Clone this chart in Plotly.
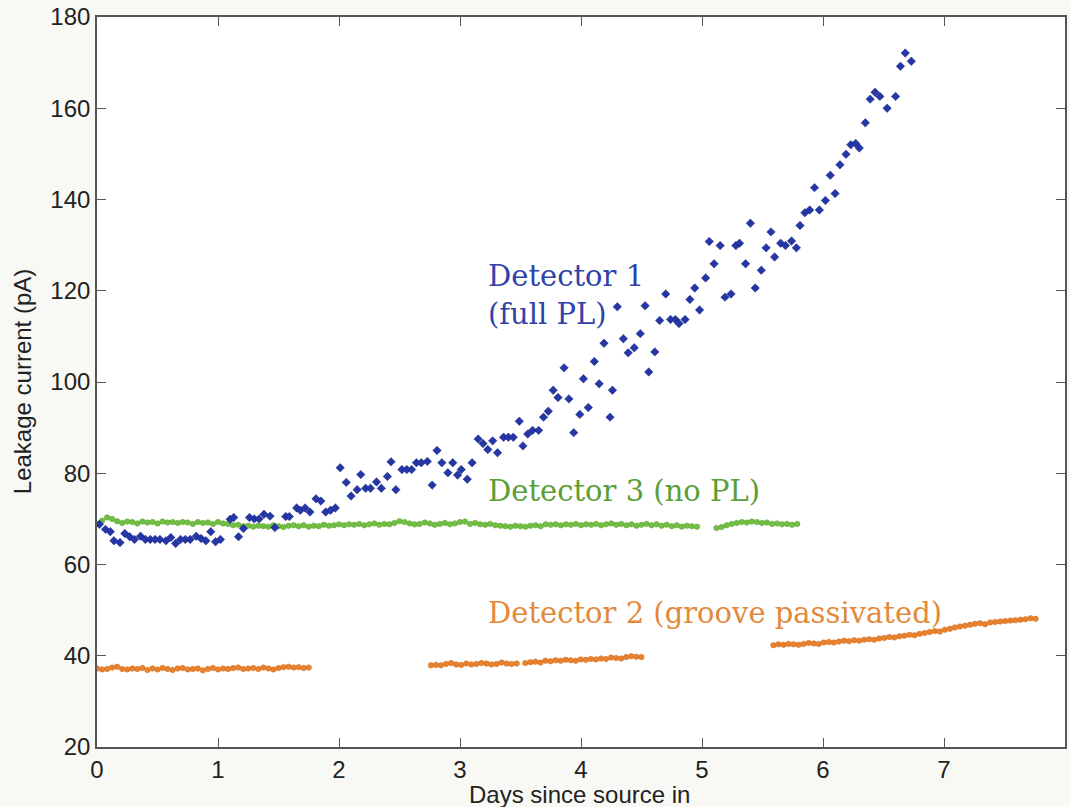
import plotly.graph_objects as go

# ---------------- data ----------------
det1_x = [0.02, 0.07, 0.11, 0.14, 0.19, 0.23, 0.27, 0.31, 0.36, 0.40, 0.44, 0.48, 0.52, 0.57, 0.61,
          0.65, 0.69, 0.73, 0.77, 0.82, 0.86, 0.90, 0.94, 0.98, 1.02, 1.10, 1.13, 1.17, 1.21, 1.26,
          1.30, 1.34, 1.38, 1.43, 1.47, 1.56, 1.59, 1.65, 1.68, 1.72, 1.76, 1.81, 1.85, 1.89, 1.93,
          1.97, 2.01, 2.06, 2.10, 2.15, 2.18, 2.22, 2.26, 2.31, 2.35, 2.40, 2.43, 2.47, 2.52, 2.56,
          2.60, 2.64, 2.68, 2.73, 2.77, 2.81, 2.85, 2.90, 2.94, 2.98, 3.01, 3.06, 3.10, 3.15, 3.19,
          3.23, 3.27, 3.31, 3.36, 3.40, 3.44, 3.49, 3.52, 3.56, 3.60, 3.65, 3.69, 3.73, 3.77, 3.81,
          3.86, 3.90, 3.94, 3.99, 4.02, 4.06, 4.11, 4.15, 4.19, 4.24, 4.26, 4.30, 4.35, 4.39, 4.44,
          4.49, 4.53, 4.56, 4.61, 4.65, 4.70, 4.74, 4.78, 4.81, 4.86, 4.90, 4.94, 4.98, 5.03, 5.06,
          5.10, 5.15, 5.19, 5.24, 5.28, 5.31, 5.36, 5.40, 5.44, 5.49, 5.53, 5.57, 5.60, 5.65, 5.69,
          5.74, 5.78, 5.81, 5.85, 5.89, 5.93, 5.97, 6.02, 6.06, 6.10, 6.14, 6.19, 6.23, 6.27, 6.30,
          6.35, 6.39, 6.43, 6.47, 6.53, 6.60, 6.64, 6.68, 6.73]
det1_y = [68.8, 67.7, 67.2, 65.2, 64.8, 66.8, 66.1, 65.5, 66.2, 65.5, 65.5, 65.5, 65.5, 65.2, 65.9,
          64.6, 65.5, 65.5, 65.5, 66.2, 65.7, 65.2, 67.2, 65.0, 65.5, 69.9, 70.3, 66.1, 67.9, 70.3,
          70.0, 70.0, 71.0, 70.6, 68.1, 70.5, 70.5, 72.4, 71.9, 72.4, 71.5, 74.4, 73.9, 71.5, 71.9,
          72.4, 81.2, 78.0, 75.0, 76.4, 79.7, 76.7, 76.7, 78.1, 76.7, 79.3, 82.5, 76.4, 80.8, 80.8,
          80.8, 82.3, 82.3, 82.6, 77.4, 85.0, 82.3, 80.1, 82.3, 79.6, 80.8, 78.7, 82.3, 87.5, 86.5,
          85.2, 87.1, 84.5, 87.9, 87.9, 87.9, 91.4, 86.0, 88.6, 89.4, 89.4, 92.3, 93.6, 98.2, 96.6,
          103.1, 96.3, 88.9, 92.9, 100.7, 94.4, 104.5, 99.6, 108.5, 92.3, 98.2, 116.5, 109.5, 106.4, 107.5,
          110.6, 116.7, 102.2, 106.6, 113.5, 119.3, 113.7, 113.7, 112.8, 113.7, 118.1, 120.6, 115.8, 122.8, 130.8,
          125.9, 129.9, 118.6, 119.3, 129.9, 130.4, 125.9, 134.8, 120.6, 124.5, 129.4, 132.9, 127.4, 130.4, 129.9,
          130.9, 129.4, 134.3, 137.1, 137.7, 142.6, 137.7, 139.8, 145.3, 141.3, 147.6, 149.9, 152.0, 152.3, 151.3,
          156.8, 162.0, 163.5, 162.6, 160.0, 162.6, 169.2, 172.1, 170.3]

# Detector 3 (hourly readings): segment start day and values
det3_seg1_start = 0.0
det3_seg1_y = [68.9, 69.6, 70.3, 70.0, 69.5, 69.1, 69.4, 69.3, 69.0, 69.4,
               69.2, 69.3, 69.0, 69.4, 69.2, 69.3, 69.1, 69.3, 69.2, 68.9,
               69.3, 69.1, 69.2, 68.9, 69.3, 69.0, 68.9, 68.6, 68.7, 68.4,
               68.5, 68.3, 68.5, 68.4, 68.3, 68.6, 68.4, 68.2, 68.5, 68.6,
               68.4, 68.6, 68.3, 68.5, 68.4, 68.7, 68.5, 68.6, 68.8, 68.6,
               68.8, 68.7, 68.9, 68.6, 68.8, 69.0, 68.7, 68.9, 68.8, 69.1,
               69.5, 69.3, 69.0, 68.8, 68.9, 69.2, 69.0, 68.7, 68.9, 69.1,
               68.8, 69.0, 69.3, 69.4, 68.9, 69.1, 68.8, 68.7, 68.9, 68.6,
               68.5, 68.4, 68.3, 68.5, 68.4, 68.3, 68.5, 68.6, 68.4, 68.8,
               68.7, 68.8, 68.6, 68.8, 68.7, 68.9, 68.6, 68.8, 68.7, 68.9,
               68.6, 68.8, 69.0, 68.7, 68.9, 68.6, 68.8, 68.5, 68.7, 68.9,
               68.6, 68.8, 68.5, 68.7, 68.4, 68.6, 68.3, 68.5, 68.4, 68.3]
det3_seg2_start = 5.12
det3_seg2_y = [68.0, 68.2, 68.6, 68.9, 69.1, 69.3, 69.2, 69.4, 69.3, 69.1,
               69.2, 68.9, 69.0, 68.8, 68.9, 68.7, 68.9]

# Detector 2 (hourly readings), four segments
det2_segA_start = 0.0
det2_segA_y = [37.2, 37.0, 37.1, 37.4, 37.6, 37.1, 37.0, 37.2, 37.1, 37.3, 36.9, 37.2, 37.0, 37.3,
               37.1, 36.9, 37.2, 37.3, 37.0, 37.1, 37.2, 36.8, 37.1, 37.3, 37.0, 37.2, 37.1, 37.3,
               37.4, 37.1, 37.2, 37.3, 37.1, 37.4, 37.2, 37.0, 37.3, 37.5, 37.6, 37.4, 37.5, 37.3, 37.4]
det2_segB_start = 2.76
det2_segB_y = [37.9, 38.0, 37.9, 38.2, 38.4, 38.1, 38.0, 38.3, 38.1, 38.2, 38.4, 38.3, 38.1, 38.2,
               38.5, 38.3, 38.2, 38.3]
det2_segC_start = 3.54
det2_segC_y = [38.4, 38.6, 38.7, 38.5, 38.9, 38.8, 39.0, 38.9, 39.1, 39.0, 38.9, 39.2, 39.1, 39.3,
               39.2, 39.4, 39.3, 39.6, 39.5, 39.4, 39.7, 39.9, 39.8, 39.7]
det2_segD_start = 5.59
det2_segD_y = [42.3, 42.5, 42.4, 42.6, 42.5, 42.4, 42.6, 42.8, 42.7, 42.6, 42.9, 43.0, 42.9, 43.1,
               43.3, 43.2, 43.4, 43.3, 43.5, 43.6, 43.5, 43.8, 43.9, 44.1, 44.0, 44.3, 44.4, 44.6,
               44.5, 44.8, 45.0, 45.2, 45.4, 45.3, 45.7, 45.9, 46.2, 46.4, 46.6, 46.8, 47.0, 47.1,
               46.9, 47.3, 47.4, 47.5, 47.6, 47.7, 47.8, 47.9, 48.0, 48.2, 48.1]

x_ticks = [0, 1, 2, 3, 4, 5, 6, 7, 8]
y_ticks = [20, 40, 60, 80, 100, 120, 140, 160, 180]

HOUR = 1.0 / 24.0


def hourly(start, values):
    return [start + i * HOUR for i in range(len(values))]


BLUE = "#2536a6"
GREEN = "#72c043"
ORANGE = "#e8822e"

fig = go.Figure()

# Detector 3 segments (with gap)
g_x = hourly(det3_seg1_start, det3_seg1_y) + [None] + hourly(det3_seg2_start, det3_seg2_y)
g_y = det3_seg1_y + [None] + det3_seg2_y
fig.add_trace(go.Scatter(x=g_x, y=g_y, mode="markers",
                         marker=dict(color=GREEN, size=5.5, symbol="circle",
                                     line=dict(color="#5aa030", width=0.5)),
                         showlegend=False, hoverinfo="x+y"))

# Detector 2 segments
o_x, o_y = [], []
for st, vals in [(det2_segA_start, det2_segA_y), (det2_segB_start, det2_segB_y),
                 (det2_segC_start, det2_segC_y), (det2_segD_start, det2_segD_y)]:
    o_x += hourly(st, vals)
    o_y += vals
fig.add_trace(go.Scatter(x=o_x, y=o_y, mode="markers",
                         marker=dict(color=ORANGE, size=5.5, symbol="circle",
                                     line=dict(color="#d06a1a", width=0.5)),
                         showlegend=False, hoverinfo="x+y"))

# Detector 1
fig.add_trace(go.Scatter(x=det1_x, y=det1_y, mode="markers",
                         marker=dict(color=BLUE, size=6.5, symbol="diamond",
                                     line=dict(color="#1a2580", width=0.5)),
                         showlegend=False, hoverinfo="x+y"))

ann_font = "DejaVu Serif, Liberation Serif, serif"
fig.add_annotation(x=3.215, y=119.0, xref="x", yref="y", xanchor="left", yanchor="middle",
                   text="Detector 1<br>(full PL)", showarrow=False, align="left",
                   font=dict(family=ann_font, size=29, color="#2f42a8"))
fig.add_annotation(x=3.215, y=76.1, xref="x", yref="y", xanchor="left", yanchor="middle",
                   text="Detector 3 (no PL)", showarrow=False, align="left",
                   font=dict(family=ann_font, size=29, color="#5a9e35"))
fig.add_annotation(x=3.215, y=49.3, xref="x", yref="y", xanchor="left", yanchor="middle",
                   text="Detector 2 (groove passivated)", showarrow=False, align="left",
                   font=dict(family=ann_font, size=29, color="#e3893a"))

# axis titles
axis_font = dict(family="Liberation Sans, Arial, sans-serif", size=24, color="#222222")
fig.add_annotation(x=-0.0773, y=0.50, xref="paper", yref="paper", textangle=-90,
                   text="Leakage current (pA)", showarrow=False, xanchor="center", yanchor="middle",
                   font=axis_font)
fig.add_annotation(x=0.498, y=-0.0657, xref="paper", yref="paper",
                   text="Days since source in", showarrow=False, xanchor="center", yanchor="middle",
                   font=axis_font)

tick_font = dict(family="Liberation Sans, Arial, sans-serif", size=24, color="#222222")
fig.update_xaxes(range=[0, 8], tickvals=x_ticks, ticktext=[str(v) for v in x_ticks],
                 ticks="inside", ticklen=9, tickwidth=1.3, tickcolor="#555555",
                 showline=True, linecolor="#555555", linewidth=1.6, mirror="ticks",
                 showgrid=False, zeroline=False, tickfont=tick_font)
fig.update_yaxes(range=[20, 180], tickvals=y_ticks, ticktext=[str(v) for v in y_ticks],
                 ticks="inside", ticklen=9, tickwidth=1.3, tickcolor="#555555",
                 showline=True, linecolor="#555555", linewidth=1.6, mirror="ticks",
                 showgrid=False, zeroline=False, tickfont=tick_font)

fig.update_layout(width=1070, height=807,
                  margin=dict(l=97, r=3, t=16, b=60),
                  paper_bgcolor="#f8f9f5", plot_bgcolor="white")

fig.write_html("out.html")
